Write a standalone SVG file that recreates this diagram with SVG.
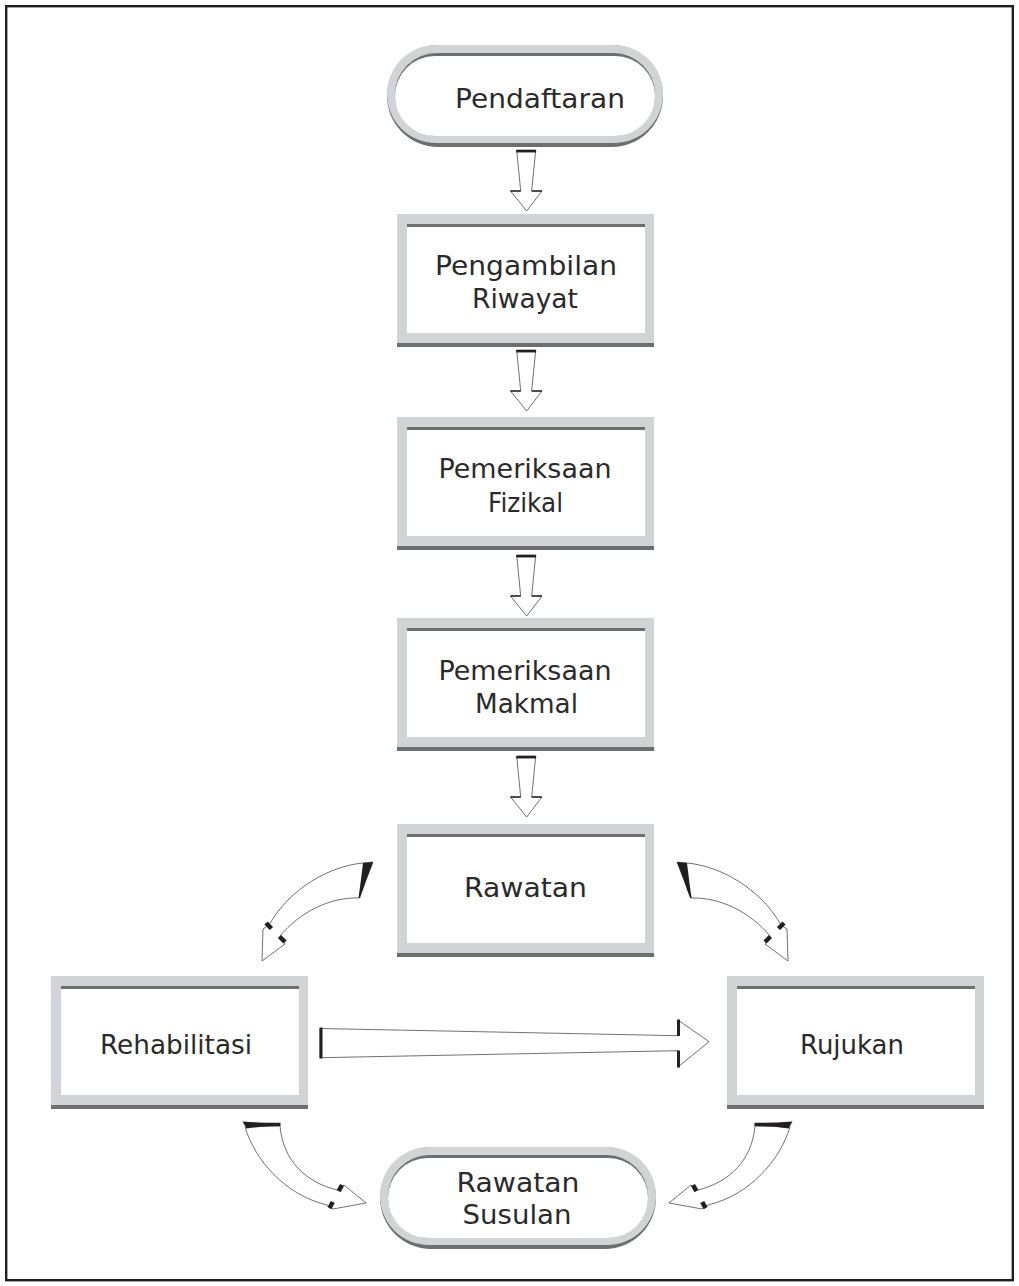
<svg xmlns="http://www.w3.org/2000/svg" xmlns:xlink="http://www.w3.org/1999/xlink" width="1019" height="1286" viewBox="0 0 1019 1286">
<style>
.lg{fill:#d1d3d4}
.dg{fill:#6d6e71}
.wh{fill:#ffffff}
.txt{font-family:"DejaVu Sans","Liberation Sans",sans-serif;font-size:27px;fill:#2b2a2b;text-anchor:middle}
.arr{fill:#ffffff;stroke:#4d4d4f;stroke-width:0.8;stroke-linejoin:miter}
.bar{stroke:#231f20;stroke-width:2.5;fill:none}
.hb{stroke:#231f20;stroke-width:1.4;fill:none}
.barb{stroke:#231f20;stroke-width:4.5;fill:none}
.wedge{fill:#231f20}
</style>
<defs>
  <g id="boxframe">
    <rect class="lg" x="0" y="0" width="257" height="133"/>
    <rect class="dg" x="0" y="129" width="257" height="4"/>
    <rect class="dg" x="10" y="10" width="238" height="109"/>
    <rect class="wh" x="10" y="13" width="238" height="106"/>
  </g>
  <g id="pill">
    <rect class="dg" x="0" y="0" width="276" height="102" rx="51"/>
    <rect class="lg" x="0" y="0" width="276" height="98" rx="49"/>
    <rect class="dg" x="8" y="8" width="260" height="83" rx="41.5"/>
    <rect class="wh" x="8" y="11" width="260" height="80" rx="40"/>
  </g>
  <g id="varrow">
    <polygon class="arr" points="516.7,0 535.7,0 531.7,41 542,41 526.7,61 510.5,41 520.7,41"/>
    <line class="bar" x1="516.3" y1="1.2" x2="536.1" y2="1.2"/>
    <line class="hb" x1="510.5" y1="41" x2="520.7" y2="41"/>
    <line class="hb" x1="531.7" y1="41" x2="542" y2="41"/>
  </g>
  <g id="tlarrow">
    <path class="arr" d="M363,863 C330,866 290,888 269,925 L263,929 L262,961 L285,944 L280,936 C300,912 330,897 359,898 L373,862 Z"/>
    <path class="wedge" d="M363,863 L373,862 Q366,880 360,898 L358.5,898 Q361,880 363,863 Z"/>
    <line class="barb" x1="266" y1="923" x2="271.5" y2="928.5"/>
    <line class="barb" x1="279.5" y1="936.5" x2="285" y2="942"/>
  </g>
  <g id="blarrow">
    <path class="arr" d="M245,1127 C255,1160 285,1195 327,1205 L333,1209 L366,1203 L344,1185 L337,1190 C305,1182 283,1160 280,1126 Z"/>
    <path class="wedge" d="M242.5,1121.5 Q262,1123 280.5,1122.8 L280.5,1126 Q262,1126 246.5,1128.5 Z"/>
    <line class="barb" x1="342" y1="1185" x2="338.6" y2="1191.2"/>
    <line class="barb" x1="332.8" y1="1202" x2="329.4" y2="1208.2"/>
  </g>
</defs>

<rect x="6.2" y="6.2" width="1006.6" height="1274" fill="none" stroke="#231f20" stroke-width="2.4"/>

<g id="connectors">
  <use xlink:href="#varrow" href="#varrow" x="0" y="150"/>
  <use xlink:href="#varrow" href="#varrow" x="0" y="350"/>
  <use xlink:href="#varrow" href="#varrow" x="0" y="555"/>
  <use xlink:href="#varrow" href="#varrow" x="0" y="756"/>
  <use xlink:href="#tlarrow" href="#tlarrow"/>
  <use xlink:href="#tlarrow" href="#tlarrow" transform="matrix(-1 0 0 1 1050 0)"/>
  <use xlink:href="#blarrow" href="#blarrow"/>
  <use xlink:href="#blarrow" href="#blarrow" transform="matrix(-1 0 0 1 1035 0)"/>
  <g id="rehab-to-rujukan">
    <polygon class="arr" points="320,1028.5 678,1035.7 678,1020 709,1041.7 678,1067 678,1050.7 320,1057.7"/>
    <line class="bar" x1="321" y1="1027.5" x2="321" y2="1058.5" style="stroke-width:3"/>
    <line class="bar" x1="678.5" y1="1019.5" x2="678.5" y2="1036" style="stroke-width:3"/>
    <line class="bar" x1="678.5" y1="1050.5" x2="678.5" y2="1067.5" style="stroke-width:3"/>
  </g>
</g>

<g id="pendaftaran">
  <use xlink:href="#pill" href="#pill" x="387" y="45"/>
  <text class="txt" x="540" y="108" textLength="170" lengthAdjust="spacingAndGlyphs">Pendaftaran</text>
</g>
<g id="pengambilan-riwayat">
  <use xlink:href="#boxframe" href="#boxframe" x="397" y="214"/>
  <text class="txt" x="526" y="275" textLength="182" lengthAdjust="spacingAndGlyphs">Pengambilan</text>
  <text class="txt" x="525" y="308" textLength="106" lengthAdjust="spacingAndGlyphs">Riwayat</text>
</g>
<g id="pemeriksaan-fizikal">
  <use xlink:href="#boxframe" href="#boxframe" x="397" y="417"/>
  <text class="txt" x="525" y="478" textLength="173" lengthAdjust="spacingAndGlyphs">Pemeriksaan</text>
  <text class="txt" x="525.5" y="512" textLength="75" lengthAdjust="spacingAndGlyphs">Fizikal</text>
</g>
<g id="pemeriksaan-makmal">
  <use xlink:href="#boxframe" href="#boxframe" x="397" y="618"/>
  <text class="txt" x="525" y="680" textLength="173" lengthAdjust="spacingAndGlyphs">Pemeriksaan</text>
  <text class="txt" x="526.5" y="713" textLength="103" lengthAdjust="spacingAndGlyphs">Makmal</text>
</g>
<g id="rawatan">
  <use xlink:href="#boxframe" href="#boxframe" x="397" y="824"/>
  <text class="txt" x="525.5" y="897" textLength="123" lengthAdjust="spacingAndGlyphs">Rawatan</text>
</g>
<g id="rehabilitasi">
  <use xlink:href="#boxframe" href="#boxframe" x="51" y="976"/>
  <text class="txt" x="176" y="1054" textLength="152" lengthAdjust="spacingAndGlyphs">Rehabilitasi</text>
</g>
<g id="rujukan">
  <use xlink:href="#boxframe" href="#boxframe" x="727" y="976"/>
  <text class="txt" x="852" y="1054" textLength="104" lengthAdjust="spacingAndGlyphs">Rujukan</text>
</g>
<g id="rawatan-susulan">
  <use xlink:href="#pill" href="#pill" x="380" y="1147"/>
  <text class="txt" x="518" y="1192" textLength="123" lengthAdjust="spacingAndGlyphs">Rawatan</text>
  <text class="txt" x="517" y="1224" textLength="109" lengthAdjust="spacingAndGlyphs">Susulan</text>
</g>
</svg>
